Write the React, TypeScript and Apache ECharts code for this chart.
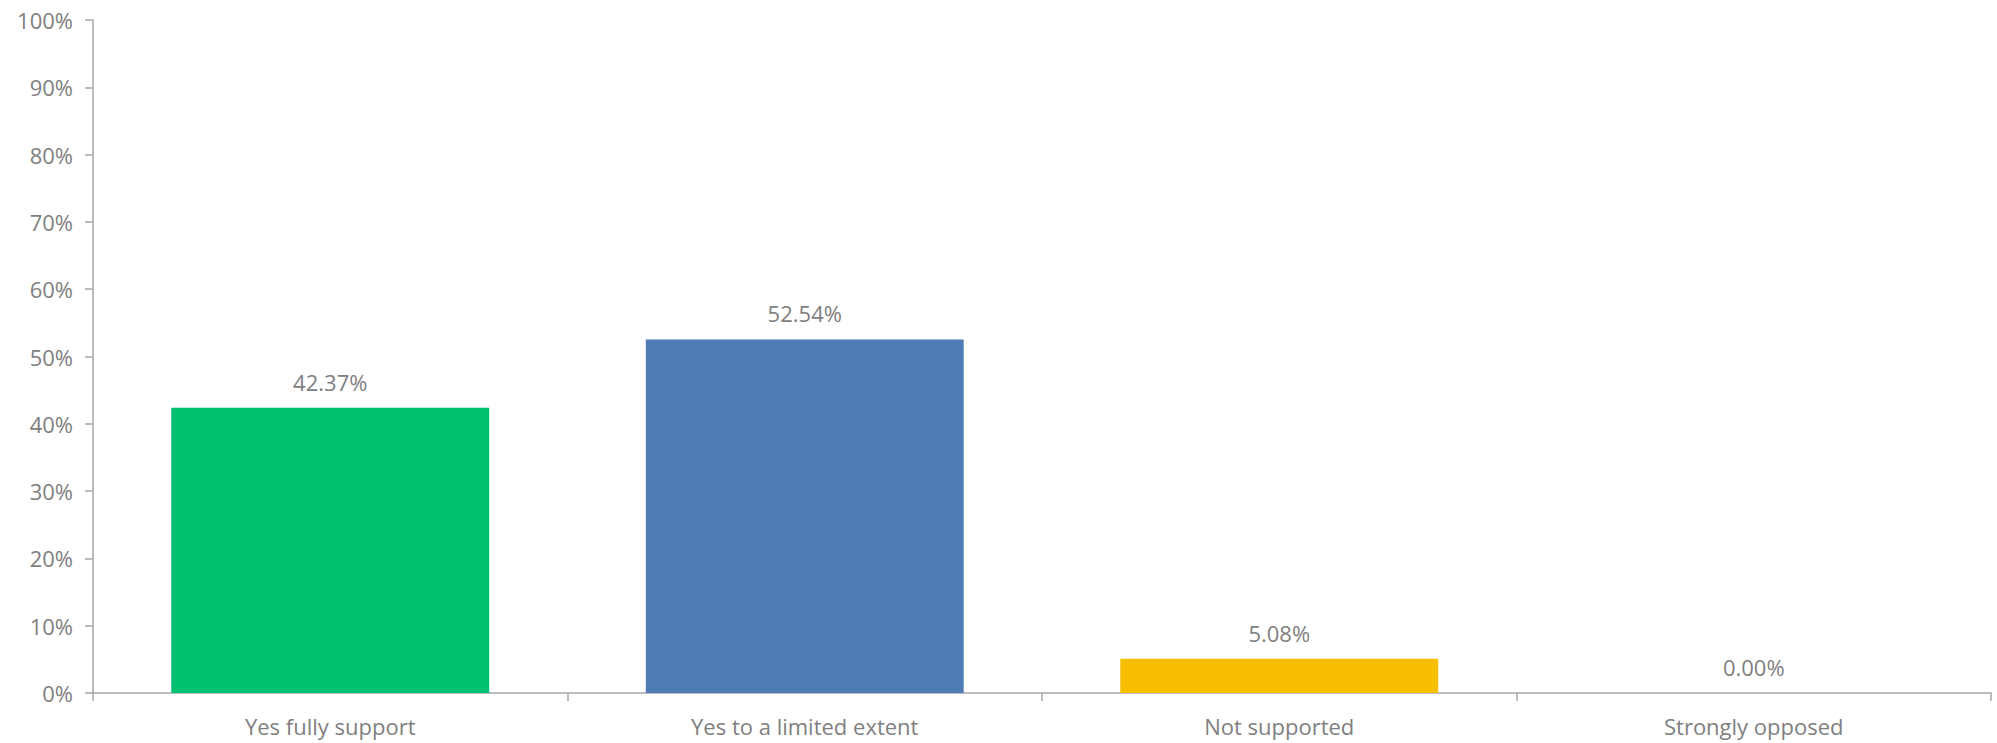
import React, { useEffect, useRef } from "react";
import * as echarts from "echarts";

const categories = ["Yes fully support", "Yes to a limited extent", "Not supported", "Strongly opposed"];
const values = [42.37, 52.54, 5.08, 0.0];
const barColors = ["#00BF6F", "#4F7CB4", "#F8BE00", "#A5A5A5"];
const yTicks = [0, 10, 20, 30, 40, 50, 60, 70, 80, 90, 100];

export default function App() {
  const ref = useRef<HTMLDivElement>(null);
  useEffect(() => {
    if (!ref.current) return;
    const chart = echarts.init(ref.current, null, { renderer: "svg" });
    const font = "'Open Sans', 'Noto Sans', sans-serif";
    chart.setOption({
      animation: false,
      grid: { left: 93, right: 6, top: 20, bottom: 50, containLabel: false },
      xAxis: {
        type: "category",
        data: categories,
        axisLine: { lineStyle: { color: "#A6A6A6", width: 1.5 } },
        axisTick: { show: true, length: 8, lineStyle: { color: "#A6A6A6", width: 1.5 } },
        axisLabel: { color: "#808080", fontSize: 22, fontFamily: font, margin: 22 },
      },
      yAxis: {
        type: "value",
        min: yTicks[0],
        max: yTicks[yTicks.length - 1],
        interval: 10,
        splitLine: { show: false },
        axisLine: { show: true, lineStyle: { color: "#A6A6A6", width: 1.5 } },
        axisTick: { show: true, length: 8, lineStyle: { color: "#A6A6A6", width: 1.5 } },
        axisLabel: { color: "#808080", fontSize: 22, fontFamily: font, margin: 20, formatter: "{value}%" },
      },
      series: [
        {
          type: "bar",
          barWidth: "67%",
          data: values.map((v, i) => ({ value: v, itemStyle: { color: barColors[i] } })),
          label: {
            show: true,
            position: "top",
            distance: 15,
            color: "#808080",
            fontSize: 22,
            fontFamily: font,
            formatter: (p: any) => p.value.toFixed(2) + "%",
          },
        },
      ],
    });
    return () => chart.dispose();
  }, []);
  return <div ref={ref} style={{ position: "absolute", left: 0, top: 0, width: 1997, height: 743, background: "#fff" }} />;
}
